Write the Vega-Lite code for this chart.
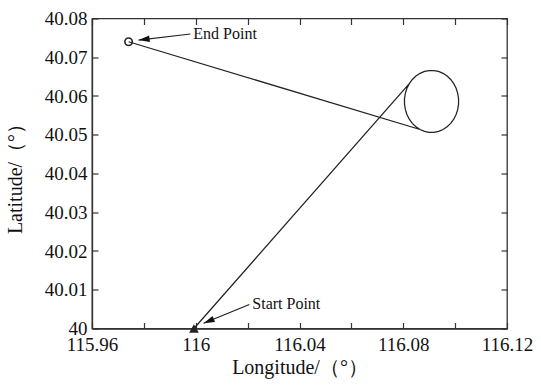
{
  "$schema": "https://vega.github.io/schema/vega-lite/v6.json",
  "autosize": {"type": "none"},
  "padding": {"left": 92, "top": 18.5, "right": 34, "bottom": 56.5},
  "width": 415,
  "height": 310,
  "background": "white",
  "config": {
    "view": {"stroke": "#333", "strokeWidth": 1.3},
    "font": "Liberation Serif",
    "axis": {
      "labelFont": "Liberation Serif",
      "titleFont": "Liberation Serif",
      "labelFontSize": 19,
      "titleFontSize": 20,
      "titleFontWeight": "normal",
      "labelColor": "#111",
      "titleColor": "#111"
    },
    "text": {"font": "Liberation Serif"}
  },
  "datasets": {
    "track": [
      {"step": 0, "lon": 115.9993, "lat": 40.0},
      {"step": 1, "lon": 116.08233, "lat": 40.06319},
      {"step": 2, "lon": 116.0835, "lat": 40.06426},
      {"step": 3, "lon": 116.0849, "lat": 40.06515},
      {"step": 4, "lon": 116.08648, "lat": 40.06585},
      {"step": 5, "lon": 116.08819, "lat": 40.06633},
      {"step": 6, "lon": 116.08999, "lat": 40.06657},
      {"step": 7, "lon": 116.09181, "lat": 40.06657},
      {"step": 8, "lon": 116.09361, "lat": 40.06633},
      {"step": 9, "lon": 116.09532, "lat": 40.06585},
      {"step": 10, "lon": 116.0969, "lat": 40.06515},
      {"step": 11, "lon": 116.0983, "lat": 40.06426},
      {"step": 12, "lon": 116.09947, "lat": 40.06319},
      {"step": 13, "lon": 116.10038, "lat": 40.06198},
      {"step": 14, "lon": 116.101, "lat": 40.06067},
      {"step": 15, "lon": 116.10132, "lat": 40.0593},
      {"step": 16, "lon": 116.10132, "lat": 40.0579},
      {"step": 17, "lon": 116.101, "lat": 40.05653},
      {"step": 18, "lon": 116.10038, "lat": 40.05522},
      {"step": 19, "lon": 116.09947, "lat": 40.05401},
      {"step": 20, "lon": 116.0983, "lat": 40.05294},
      {"step": 21, "lon": 116.0969, "lat": 40.05205},
      {"step": 22, "lon": 116.09532, "lat": 40.05135},
      {"step": 23, "lon": 116.09361, "lat": 40.05087},
      {"step": 24, "lon": 116.09181, "lat": 40.05063},
      {"step": 25, "lon": 116.08999, "lat": 40.05063},
      {"step": 26, "lon": 116.08819, "lat": 40.05087},
      {"step": 27, "lon": 116.08648, "lat": 40.05135},
      {"step": 28, "lon": 116.0849, "lat": 40.05205},
      {"step": 29, "lon": 116.0835, "lat": 40.05294},
      {"step": 30, "lon": 116.08233, "lat": 40.05401},
      {"step": 31, "lon": 116.08142, "lat": 40.05522},
      {"step": 32, "lon": 116.0808, "lat": 40.05653},
      {"step": 33, "lon": 116.08048, "lat": 40.0579},
      {"step": 34, "lon": 116.08048, "lat": 40.0593},
      {"step": 35, "lon": 116.0808, "lat": 40.06067},
      {"step": 36, "lon": 116.08142, "lat": 40.06198},
      {"step": 37, "lon": 116.08233, "lat": 40.06319},
      {"step": 38, "lon": 116.0835, "lat": 40.06426},
      {"step": 39, "lon": 116.0849, "lat": 40.06515},
      {"step": 40, "lon": 116.08648, "lat": 40.06585},
      {"step": 41, "lon": 116.08819, "lat": 40.06633},
      {"step": 42, "lon": 116.08999, "lat": 40.06657},
      {"step": 43, "lon": 116.09181, "lat": 40.06657},
      {"step": 44, "lon": 116.09361, "lat": 40.06633},
      {"step": 45, "lon": 116.09532, "lat": 40.06585},
      {"step": 46, "lon": 116.0969, "lat": 40.06515},
      {"step": 47, "lon": 116.0983, "lat": 40.06426},
      {"step": 48, "lon": 116.09947, "lat": 40.06319},
      {"step": 49, "lon": 116.10038, "lat": 40.06198},
      {"step": 50, "lon": 116.101, "lat": 40.06067},
      {"step": 51, "lon": 116.10132, "lat": 40.0593},
      {"step": 52, "lon": 116.10132, "lat": 40.0579},
      {"step": 53, "lon": 116.101, "lat": 40.05653},
      {"step": 54, "lon": 116.10038, "lat": 40.05522},
      {"step": 55, "lon": 116.09947, "lat": 40.05401},
      {"step": 56, "lon": 116.0983, "lat": 40.05294},
      {"step": 57, "lon": 116.0969, "lat": 40.05205},
      {"step": 58, "lon": 116.09532, "lat": 40.05135},
      {"step": 59, "lon": 116.09361, "lat": 40.05087},
      {"step": 60, "lon": 116.09181, "lat": 40.05063},
      {"step": 61, "lon": 116.08999, "lat": 40.05063},
      {"step": 62, "lon": 116.08819, "lat": 40.05087},
      {"step": 63, "lon": 116.08648, "lat": 40.05135},
      {"step": 64, "lon": 115.9741, "lat": 40.074}
    ],
    "ends": [
      {"kind": "start", "lon": 115.9993, "lat": 40.0},
      {"kind": "end", "lon": 115.9741, "lat": 40.074}
    ],
    "notes": [
      {"label": "End Point", "ax": 115.9979, "ay": 40.076, "hx": 115.97797, "hy": 40.07444},
      {"label": "Start Point", "ax": 116.02065, "ay": 40.0062, "hx": 116.00303, "hy": 40.00137}
    ]
  },
  "layer": [
    {
      "data": {"name": "track"},
      "mark": {"type": "line", "color": "#222", "strokeWidth": 1.25, "clip": false},
      "encoding": {
        "x": {
          "field": "lon", "type": "quantitative",
          "scale": {"domain": [115.96, 116.12], "nice": false, "zero": false},
          "axis": {
            "orient": "bottom",
            "values": [115.96, 115.98, 116, 116.02, 116.04, 116.06, 116.08, 116.1, 116.12],
            "format": "~g",
            "labelExpr": "round(datum.value * 100) % 4 == 0 ? datum.label : ''",
            "title": "Longitude/（°）",
            "grid": false,
            "domainColor": "#333", "domainWidth": 1.3,
            "tickColor": "#333", "tickSize": -6, "tickWidth": 1.2,
            "labelPadding": 13, "labelFlush": false, "labelOverlap": false,
            "labelFont": "Liberation Serif", "labelFontSize": 19, "labelColor": "#111",
            "titleFont": "Liberation Serif", "titleFontSize": 20, "titleFontWeight": "normal",
            "titleColor": "#111", "titlePadding": 3
          }
        },
        "y": {
          "field": "lat", "type": "quantitative",
          "scale": {"domain": [40.0, 40.08], "nice": false, "zero": false},
          "axis": {
            "orient": "left",
            "values": [40, 40.01, 40.02, 40.03, 40.04, 40.05, 40.06, 40.07, 40.08],
            "format": "~g",
            "title": "Latitude/（°）",
            "grid": false,
            "domainColor": "#333", "domainWidth": 1.3,
            "tickColor": "#333", "tickSize": -6, "tickWidth": 1.2,
            "labelPadding": 11, "labelFlush": false, "labelOverlap": false,
            "labelFont": "Liberation Serif", "labelFontSize": 19, "labelColor": "#111",
            "titleFont": "Liberation Serif", "titleFontSize": 20, "titleFontWeight": "normal",
            "titleColor": "#111", "titlePadding": 19
          }
        },
        "order": {"field": "step", "type": "quantitative"}
      }
    },
    {
      "data": {"name": "ends"},
      "transform": [{"filter": "datum.kind === 'start'"}],
      "mark": {"type": "point", "shape": "triangle-up", "filled": true, "color": "#222", "size": 95, "opacity": 1, "clip": false},
      "encoding": {
        "x": {
          "field": "lon", "type": "quantitative",
          "axis": {
            "orient": "top", "values": [115.96, 115.98, 116, 116.02, 116.04, 116.06, 116.08, 116.1, 116.12],
            "labels": false, "title": null, "grid": false, "domain": false,
            "tickColor": "#333", "tickSize": -6, "tickWidth": 1.2
          }
        },
        "y": {
          "field": "lat", "type": "quantitative",
          "axis": {
            "orient": "right", "values": [40, 40.01, 40.02, 40.03, 40.04, 40.05, 40.06, 40.07, 40.08],
            "labels": false, "title": null, "grid": false, "domain": false,
            "tickColor": "#333", "tickSize": -6, "tickWidth": 1.2
          }
        }
      }
    },
    {
      "data": {"name": "ends"},
      "transform": [{"filter": "datum.kind === 'end'"}],
      "mark": {"type": "point", "shape": "circle", "filled": false, "color": "#222", "strokeWidth": 1.6, "size": 55, "opacity": 1},
      "encoding": {
        "x": {"field": "lon", "type": "quantitative", "axis": null},
        "y": {"field": "lat", "type": "quantitative", "axis": null}
      }
    },
    {
      "data": {"name": "notes"},
      "mark": {"type": "rule", "color": "#222", "strokeWidth": 1.2},
      "encoding": {
        "x": {"field": "ax", "type": "quantitative", "axis": null},
        "y": {"field": "ay", "type": "quantitative", "axis": null},
        "x2": {"field": "hx"},
        "y2": {"field": "hy"}
      }
    },
    {
      "data": {"name": "notes"},
      "transform": [{"filter": "datum.label === 'End Point'"}],
      "mark": {"type": "point", "shape": "M0,0L-1,-0.3L-1,0.3Z", "filled": true, "color": "#111", "opacity": 1, "size": 484, "angle": 173.4},
      "encoding": {
        "x": {"field": "hx", "type": "quantitative", "axis": null},
        "y": {"field": "hy", "type": "quantitative", "axis": null}
      }
    },
    {
      "data": {"name": "notes"},
      "transform": [{"filter": "datum.label === 'Start Point'"}],
      "mark": {"type": "point", "shape": "M0,0L-1,-0.3L-1,0.3Z", "filled": true, "color": "#111", "opacity": 1, "size": 484, "angle": 157.7},
      "encoding": {
        "x": {"field": "hx", "type": "quantitative", "axis": null},
        "y": {"field": "hy", "type": "quantitative", "axis": null}
      }
    },
    {
      "data": {"name": "notes"},
      "mark": {"type": "text", "align": "left", "baseline": "middle", "dx": 3, "font": "Liberation Serif", "fontSize": 16, "color": "#111"},
      "encoding": {
        "x": {"field": "ax", "type": "quantitative", "axis": null},
        "y": {"field": "ay", "type": "quantitative", "axis": null},
        "text": {"field": "label"}
      }
    }
  ],
  "resolve": {"axis": {"x": "independent", "y": "independent"}}
}
